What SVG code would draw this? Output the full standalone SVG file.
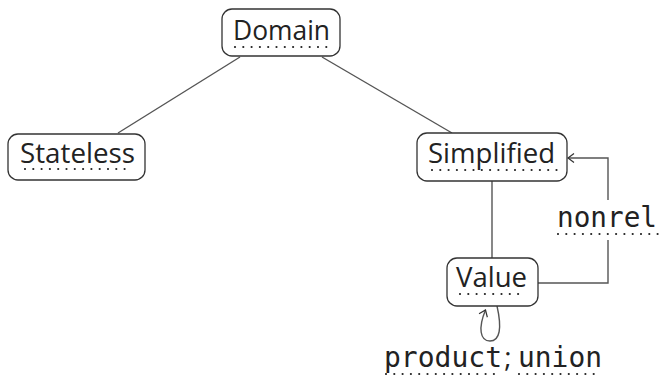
<svg xmlns="http://www.w3.org/2000/svg" width="664" height="379" viewBox="0 0 664 379">
<style>
.box{fill:#fff;stroke:#333;stroke-width:1.3}
.lbl{font-family:"Open Sans","Noto Sans","DejaVu Sans",sans-serif;font-size:28px;font-weight:400;fill:#222;text-anchor:middle}
.mono{font-family:"DejaVu Sans Mono","Liberation Mono",monospace;font-size:28px;fill:#222}
.dots{stroke:#222;stroke-width:2.2;stroke-linecap:round;stroke-dasharray:0 8.3;fill:none}
.edge{stroke:#555;stroke-width:1.4;fill:none}
</style>
<defs>
<marker id="arr" viewBox="-8 -6 10 12" markerWidth="10" markerHeight="12" refX="0" refY="0" orient="auto" markerUnits="userSpaceOnUse">
<path d="M -6 -4.5 L 0 0 L -6 4.5" fill="none" stroke="#333" stroke-width="1.2"/>
</marker>
</defs>
<g id="connectors">
<line class="edge" x1="240" y1="57" x2="118" y2="133"/>
<line class="edge" x1="322" y1="57" x2="452" y2="133"/>
<line class="edge" x1="492" y1="181" x2="492" y2="258"/>
<polyline class="edge" points="538,283 608,283 608,240"/>
<polyline class="edge" points="608,200 608,158 568,158" marker-end="url(#arr)"/>
<path class="edge" d="M 497 306 C 502 328 500 341 490 341 C 480 341 478 328 485.5 310" marker-end="url(#arr)"/>
</g>
<g id="Domain">
<rect class="box" x="222" y="9" width="118" height="47" rx="10"/>
<text class="lbl" x="281.5" y="40" textLength="97" lengthAdjust="spacingAndGlyphs">Domain</text>
<line class="dots" x1="235" y1="47" x2="328" y2="47"/>
</g>
<g id="Stateless">
<rect class="box" x="8" y="134" width="137" height="46" rx="10"/>
<text class="lbl" x="77.5" y="163" textLength="115" lengthAdjust="spacingAndGlyphs">Stateless</text>
<line class="dots" x1="25" y1="169" x2="132" y2="169"/>
</g>
<g id="Simplified">
<rect class="box" x="417" y="133" width="150" height="48" rx="10"/>
<text class="lbl" x="491.5" y="163" textLength="127" lengthAdjust="spacingAndGlyphs">Simplified</text>
<line class="dots" x1="432" y1="170" x2="558" y2="170"/>
</g>
<g id="Value">
<rect class="box" x="447" y="258" width="91" height="48" rx="10"/>
<text class="lbl" x="491.5" y="287" textLength="71" lengthAdjust="spacingAndGlyphs">Value</text>
<line class="dots" x1="460" y1="294" x2="523" y2="294"/>
</g>
<g id="label-nonrel">
<text class="mono" x="557" y="227" textLength="100" lengthAdjust="spacingAndGlyphs">nonrel</text>
<line class="dots" x1="558" y1="234" x2="660" y2="234"/>
</g>
<g id="label-product-union">
<text class="mono" x="384" y="367" textLength="118" lengthAdjust="spacingAndGlyphs">product</text>
<text class="lbl" x="508" y="367">;</text>
<text class="mono" x="518" y="367" textLength="84" lengthAdjust="spacingAndGlyphs">union</text>
<line class="dots" x1="386" y1="374" x2="500" y2="374"/>
<line class="dots" x1="519" y1="374" x2="602" y2="374"/>
</g>
</svg>
